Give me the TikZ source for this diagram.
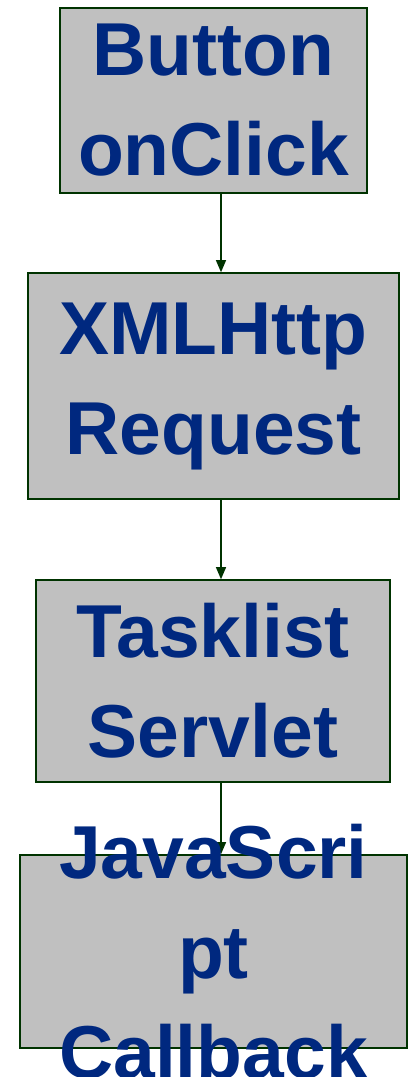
\documentclass[tikz,border=0pt]{standalone}
\usepackage{fontspec}
\setmainfont{Liberation Sans}
\usepackage{tikz}
\usetikzlibrary{arrows.meta}
\definecolor{boxgrey}{RGB}{192,192,192}
\definecolor{edgegreen}{RGB}{0,51,0}
\definecolor{labelnavy}{RGB}{0,40,127}

\begin{document}
\begin{tikzpicture}[x=1pt,y=-1pt,
    stage/.style={draw=edgegreen,line width=1.6pt,fill=boxgrey,inner sep=0pt},
    stagetext/.style={align=center,text=labelnavy,inner sep=0pt,
      font=\fontsize{75}{100}\selectfont\bfseries},
    flow/.style={draw=edgegreen,line width=1.2pt,-{Triangle[length=12pt,width=10pt]}}]
      % page size as in the reference: 411 x 1077 px, y grows downwards
      \useasboundingbox (0,0) rectangle (411,1077);
      % the four stages, top to bottom
      \node[stage,minimum width=307pt,minimum height=185pt,
        label={[stagetext]center:Button\\onClick}] (btn) at (213.5,100.5) {};
      \node[stage,minimum width=371pt,minimum height=226pt,
        label={[stagetext]center:XMLHttp\\Request}] (xhr) at (213.5,386) {};
      \node[stage,minimum width=354pt,minimum height=202pt,
        label={[stagetext]center:Tasklist\\Servlet}] (servlet) at (213,681) {};
      % last box: the text runs out over its edges
      \node[stage,minimum width=387pt,minimum height=193pt] (callback) at (213.5,951.5) {};
      % arrows sit a bit right of the box centres (x = 221)
      \draw[flow] ([xshift=7.5pt]btn.south) -- ([xshift=7.5pt]xhr.north);
      \draw[flow] ([xshift=7.5pt]xhr.south) -- ([xshift=8pt]servlet.north);
      \draw[flow] ([xshift=8pt]servlet.south) -- ([xshift=7.5pt]callback.north);
      \node[stagetext] (cbtext) at (callback.center) {JavaScri\\pt\\Callback};
\end{tikzpicture}
\end{document}
